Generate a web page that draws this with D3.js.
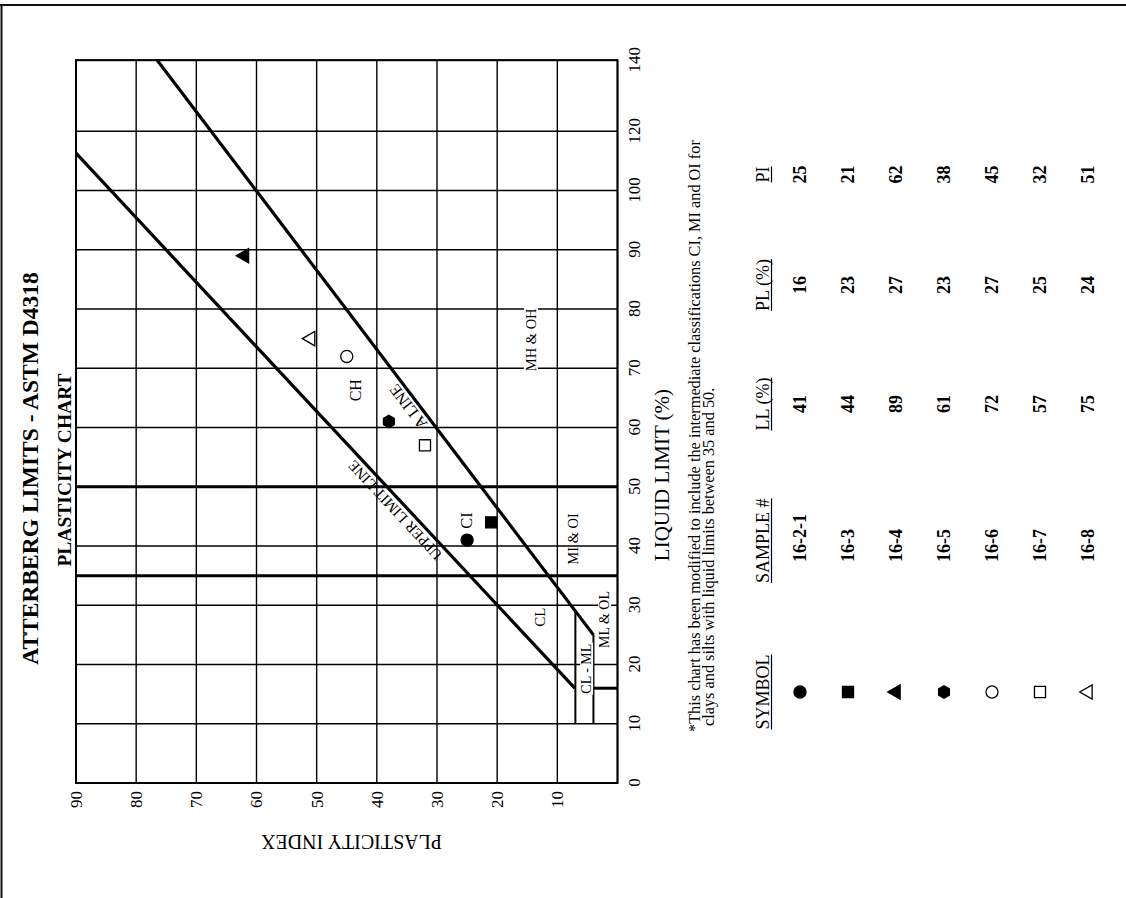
<!DOCTYPE html>
<html>
<head>
<meta charset="utf-8">
<script src="https://cdn.jsdelivr.net/npm/d3@7"></script>
<style>
  body { margin: 0; background: #fff; }
  svg { display: block; }
  text { font-family: "Liberation Serif", "Times New Roman", serif; fill: #000; }
</style>
</head>
<body>
<svg id="chart" width="1126" height="898"></svg>
<script>
// ---------------- DATA ----------------
const sampleIds      = ["16-2-1", "16-3", "16-4", "16-5", "16-6", "16-7", "16-8"];
const liquidLimit    = [41, 44, 89, 61, 72, 57, 75];
const plasticLimit   = [16, 23, 27, 23, 27, 25, 24];
const plasticityIdx  = [25, 21, 62, 38, 45, 32, 51];
const symbolShapes   = ["circle", "square", "triangle", "hexagon", "circle", "square", "triangle"];
const symbolFilled   = [true, true, true, true, false, false, false];

// Liquid limit grid lines (last = top edge of chart) and their printed labels
const llGridValues   = [0, 10, 20, 30, 40, 50, 60, 70, 80, 90, 100, 110, 122];
const llTickLabels   = ["0", "10", "20", "30", "40", "50", "60", "70", "80", "90", "100", "120", "140"];
const piGridValues   = [0, 10, 20, 30, 40, 50, 60, 70, 80, 90];
const piTickLabels   = ["", "10", "20", "30", "40", "50", "60", "70", "80", "90"];

// Classification lines [LL, PI]
const aLinePts       = [[25, 4], [122, 76.5]];
const upperLinePts   = [[16, 7.1], [106.3, 90]];
const ll35Pts        = [[35, 0], [35, 90]];
const ll50Pts        = [[50, 0], [50, 90]];
const pi7Pts         = [[10, 7], [29, 7]];
const pi4Pts         = [[10, 4], [25, 4]];
const ll16Pts        = [[16, 0], [16, 4]];

// Zone labels (text and the LL / PI point they sit on)
const zoneTexts      = ["CH", "MH & OH", "MI & OI", "CI", "CL", "CL - ML", "ML & OL"];
const zoneLL         = [66.3, 74.8, 41.2, 42.9, 28.0, 19.3, 27.6];
const zonePI         = [43.6, 14.4, 7.4, 25.2, 12.9, 5.2, 2.2];

const tableHeaders   = ["SYMBOL", "SAMPLE #", "LL (%)", "PL (%)", "PI"];

// ---------------- DRAW ----------------
const svg = d3.select("#chart");
// Page is drawn in portrait coordinates (898 x 1126) then rotated 90deg CCW.
const page = svg.append("g").attr("transform", "translate(0,898) rotate(-90)");

const x = d3.scaleLinear().domain([0, 122]).range([115, 837.8]);   // liquid limit
const y = d3.scaleLinear().domain([0, 90]).range([617.5, 76]);     // plasticity index

// page border (top and right of the portrait page)
page.append("line").attr("x1", 0).attr("x2", 893).attr("y1", 1.5).attr("y2", 1.5)
  .attr("stroke", "#111").attr("stroke-width", 2);
page.append("line").attr("x1", 893).attr("x2", 893).attr("y1", 0).attr("y2", 1126)
  .attr("stroke", "#111").attr("stroke-width", 2);

// titles
page.append("text").attr("x", 429.5).attr("y", 38).attr("text-anchor", "middle")
  .attr("font-weight", "bold").attr("font-size", 23.5).text("ATTERBERG LIMITS - ASTM D4318");
page.append("text").attr("x", 428).attr("y", 71).attr("text-anchor", "middle")
  .attr("font-weight", "bold").attr("font-size", 19.5).text("PLASTICITY CHART");

// grid
const grid = page.append("g");
grid.selectAll(".vg").data(llGridValues).join("line")
  .attr("x1", d => x(d)).attr("x2", d => x(d))
  .attr("y1", y(0)).attr("y2", y(90))
  .attr("stroke", "#000").attr("stroke-width", 1.4);
grid.selectAll(".hg").data(piGridValues).join("line")
  .attr("x1", x(0)).attr("x2", x(122))
  .attr("y1", d => y(d)).attr("y2", d => y(d))
  .attr("stroke", "#000").attr("stroke-width", 1.4);

// frame
page.append("rect").attr("x", x(0)).attr("y", y(90))
  .attr("width", x(122) - x(0)).attr("height", y(0) - y(90))
  .attr("fill", "none").attr("stroke", "#000").attr("stroke-width", 2);

// axis tick labels
const llAxis = d3.axisBottom(x).tickValues(llGridValues)
  .tickFormat((d, i) => llTickLabels[i]).tickSize(0).tickPadding(0);
const gx = page.append("g").attr("transform", `translate(0,${y(0)})`).call(llAxis);
gx.select(".domain").remove();
gx.selectAll("text").attr("font-size", 17).attr("dy", null).attr("y", 22)
  .attr("font-family", '"Liberation Serif","Times New Roman",serif').attr("fill", "#000");

const piAxis = d3.axisLeft(y).tickValues(piGridValues)
  .tickFormat((d, i) => piTickLabels[i]).tickSize(0).tickPadding(0);
const gy = page.append("g").attr("transform", `translate(${x(0)},0)`).call(piAxis);
gy.select(".domain").remove();
gy.selectAll("text").attr("font-size", 17).attr("x", -8)
  .attr("font-family", '"Liberation Serif","Times New Roman",serif').attr("fill", "#000");

// axis titles
page.append("text").attr("x", 423).attr("y", 669).attr("text-anchor", "middle")
  .attr("font-size", 21).text("LIQUID LIMIT (%)");
page.append("text").attr("transform", "translate(56,351.5) rotate(-90)")
  .attr("text-anchor", "middle").attr("dy", "0.35em")
  .attr("font-size", 20).text("PLASTICITY INDEX");

// classification lines
const line = d3.line().x(d => x(d[0])).y(d => y(d[1]));
const lines = page.append("g").attr("fill", "none").attr("stroke", "#000");
lines.append("path").attr("d", line(aLinePts)).attr("stroke-width", 3.2);
lines.append("path").attr("d", line(upperLinePts)).attr("stroke-width", 3.2);
lines.append("path").attr("d", line(ll35Pts)).attr("stroke-width", 3);
lines.append("path").attr("d", line(ll50Pts)).attr("stroke-width", 3);
lines.append("path").attr("d", line(pi7Pts)).attr("stroke-width", 2);
lines.append("path").attr("d", line(pi4Pts)).attr("stroke-width", 2);
lines.append("path").attr("d", line(ll16Pts)).attr("stroke-width", 3);

// zone labels
const zoneStyle = {
  "CH":      { size: 16,   anchor: "middle", bg: false },
  "MH & OH": { size: 14.5, anchor: "middle", bg: true },
  "MI & OI": { size: 14.5, anchor: "middle", bg: false },
  "CI":      { size: 16.5, anchor: "start",  bg: false },
  "CL":      { size: 15,   anchor: "middle", bg: false },
  "CL - ML": { size: 14,   anchor: "middle", bg: true },
  "ML & OL": { size: 14,   anchor: "middle", bg: true }
};
const zl = page.append("g");
zoneTexts.forEach((t, i) => {
  const st = zoneStyle[t];
  const g = zl.append("g");
  const txt = g.append("text").attr("x", x(zoneLL[i])).attr("y", y(zonePI[i]))
    .attr("dy", "0.35em").attr("text-anchor", st.anchor)
    .attr("font-size", st.size).text(t);
  if (st.bg) {
    const b = txt.node().getBBox();
    g.insert("rect", "text").attr("x", b.x - 1).attr("y", b.y + 1)
      .attr("width", b.width + 2).attr("height", b.height - 2).attr("fill", "#fff");
  }
});

// line labels along lines
function lineLabel(pts, ll, offset, label, size) {
  const [p0, p1] = pts;
  const t = (ll - p0[0]) / (p1[0] - p0[0]);
  const pi = p0[1] + t * (p1[1] - p0[1]);
  const ang = Math.atan2(y(p1[1]) - y(p0[1]), x(p1[0]) - x(p0[0])) * 180 / Math.PI;
  page.append("text")
    .attr("transform", `translate(${x(ll)},${y(pi)}) rotate(${ang})`)
    .attr("y", offset).attr("text-anchor", "middle")
    .attr("font-size", size).text(label);
}
lineLabel(aLinePts, 64.5, -4, "A LINE", 16);
lineLabel(upperLinePts, 47.2, -5, "UPPER LIMIT LINE", 15);

// symbol generator
function symbolPath(shape, size) {
  if (shape === "circle") return d3.symbol(d3.symbolCircle, size * size * 0.80)();
  if (shape === "square") return d3.symbol(d3.symbolSquare, size * size * 0.85)();
  if (shape === "triangle") return d3.symbol(d3.symbolTriangle, size * size * 0.62)();
  if (shape === "hexagon") {
    const r = size * 0.52;
    const pts = d3.range(6).map(k => {
      const a = Math.PI / 3 * k;
      return [r * Math.cos(a), r * Math.sin(a)];
    });
    return "M" + pts.map(p => p.join(",")).join("L") + "Z";
  }
}

// data points
page.append("g").selectAll("path").data(sampleIds).join("path")
  .attr("transform", (d, i) => `translate(${x(liquidLimit[i])},${y(plasticityIdx[i])})`)
  .attr("d", (d, i) => symbolPath(symbolShapes[i], 12))
  .attr("fill", (d, i) => symbolFilled[i] ? "#000" : "#fff")
  .attr("stroke", "#000").attr("stroke-width", 1.3);

// footnote
page.append("text").attr("x", 166).attr("y", 700).attr("font-size", 16.3)
  .text("*This chart has been modified to include the intermediate classifications CI, MI and OI for");
page.append("text").attr("x", 172).attr("y", 713.5).attr("font-size", 16.3)
  .text("clays and silts with liquid limits between 35 and 50.");

// table
const colCenters = [206, 336, 494, 613, 723.5];
const colAnchor  = ["middle", "start", "middle", "middle", "middle"];
const headerY = 769;
const rowY = d3.scalePoint().domain(sampleIds).range([800, 1088]);

tableHeaders.forEach((h, j) => {
  const hx = j === 1 ? 315 : colCenters[j];
  const t = page.append("text").attr("x", hx).attr("y", headerY)
    .attr("text-anchor", j === 1 ? "start" : "middle")
    .attr("font-size", 18).text(h);
  const b = t.node().getBBox();
  page.append("line").attr("x1", b.x).attr("x2", b.x + b.width)
    .attr("y1", headerY + 2.5).attr("y2", headerY + 2.5)
    .attr("stroke", "#000").attr("stroke-width", 1.2);
});

const rows = page.append("g").selectAll("g").data(sampleIds).join("g")
  .attr("transform", d => `translate(0,${rowY(d)})`);
rows.append("path")
  .attr("transform", `translate(${colCenters[0]},0)`)
  .attr("d", (d, i) => symbolPath(symbolShapes[i], 12))
  .attr("fill", (d, i) => symbolFilled[i] ? "#000" : "#fff")
  .attr("stroke", "#000").attr("stroke-width", 1.3);
const cols = [sampleIds, liquidLimit, plasticLimit, plasticityIdx];
cols.forEach((arr, c) => {
  rows.append("text").attr("x", colCenters[c + 1]).attr("dy", "0.35em")
    .attr("text-anchor", colAnchor[c + 1]).attr("font-weight", "bold")
    .attr("font-size", 18).text((d, i) => arr[i]);
});
</script>
</body>
</html>
